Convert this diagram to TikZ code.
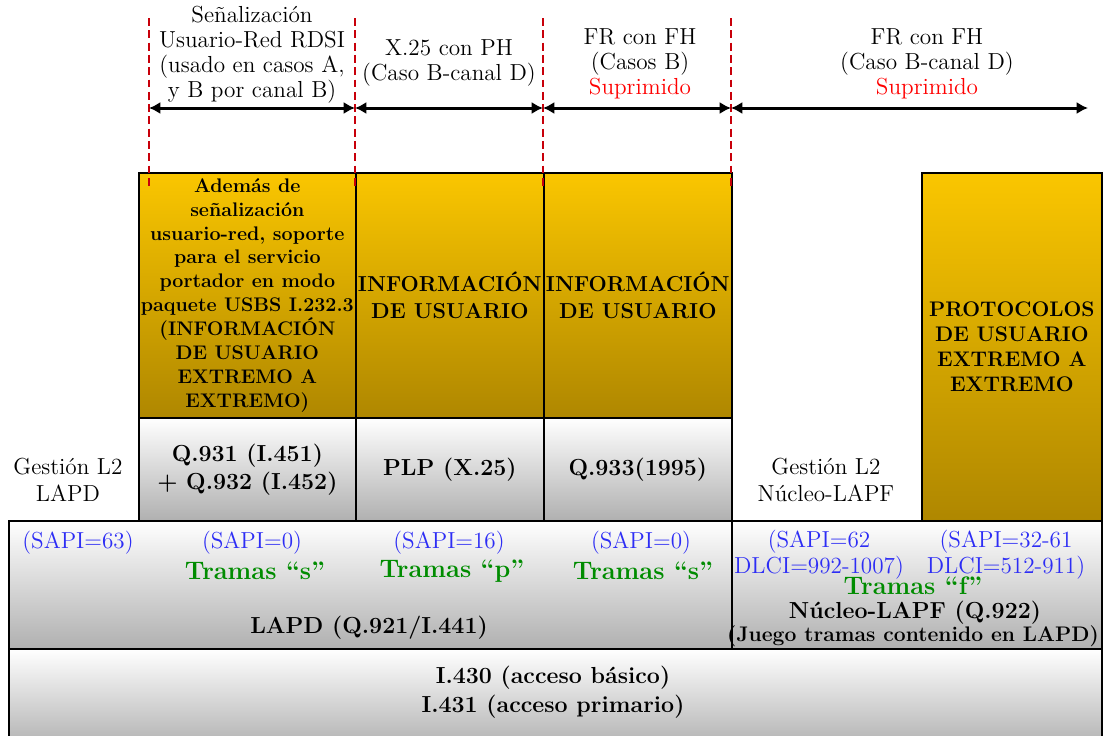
\documentclass[tikz,border=0pt]{standalone}
\usepackage{tikz}
\usetikzlibrary{arrows.meta,positioning}
\usepackage{xcolor}
\definecolor{goldtop}{RGB}{250,198,0}
\definecolor{goldbot}{RGB}{175,135,0}
\definecolor{greybot}{RGB}{176,176,176}
\definecolor{sapiblue}{RGB}{45,45,245}
\definecolor{tramagreen}{RGB}{0,140,0}
\definecolor{sepred}{RGB}{200,0,10}

\begin{document}
\begin{tikzpicture}[
    x=0.02cm, y=-0.02cm,
    userbox/.style={draw=black, line width=1pt, top color=goldtop, bottom color=goldbot, anchor=north west, inner sep=0pt, align=center, font=\fontsize{12.3}{15}\selectfont\bfseries},
    ctrlbox/.style={draw=black, line width=1pt, top color=white, bottom color=greybot, anchor=north west, inner sep=0pt, align=center, font=\fontsize{13.2}{15.8}\selectfont\bfseries},
    sepline/.style={draw=sepred, line width=1.2pt, dash pattern=on 4.5pt off 2.5pt},
    span/.style={line width=1.7pt, {Latex[length=6.5pt,width=7pt]}-{Latex[length=6.5pt,width=7pt]}},
    head/.style={font=\fontsize{13.2}{14.2}\selectfont, align=center},
    mgmt/.style={font=\fontsize{13.2}{15.3}\selectfont, align=center},
    sapi/.style={font=\fontsize{13.2}{14.8}\selectfont, text=sapiblue, align=center},
    trama/.style={font=\fontsize{14.4}{16}\selectfont\bfseries, text=tramagreen},
    layer/.style={font=\fontsize{13.2}{16.4}\selectfont\bfseries, align=center}
]
\useasboundingbox (0,0) rectangle (1103,735);

% upper layer
\node[userbox, minimum width=4.34cm, minimum height=4.9cm, font=\fontsize{11.2}{13.6}\selectfont\bfseries] (info1) at (138,172)
  {Además de\\señalización\\usuario-red, soporte\\para el servicio\\portador en modo\\paquete USBS I.232.3\\(INFORMACIÓN\\DE USUARIO\\EXTREMO A\\EXTREMO)};
\node[userbox, minimum width=3.76cm, minimum height=4.9cm] (info2) at (355,172) {INFORMACIÓN\\DE USUARIO};
\node[userbox, minimum width=3.76cm, minimum height=4.9cm] (info3) at (543,172) {INFORMACIÓN\\DE USUARIO};
\node[userbox, minimum width=3.6cm, minimum height=6.96cm, font=\fontsize{12}{14.2}\selectfont\bfseries] (proto) at (921,172) {PROTOCOLOS\\DE USUARIO\\EXTREMO A\\EXTREMO};

\node[ctrlbox, minimum width=4.34cm, minimum height=2.06cm] (q931) at (138,417) {Q.931 (I.451)\\+ Q.932 (I.452)};
\node[ctrlbox, minimum width=3.76cm, minimum height=2.06cm] (plp) at (355,417) {PLP (X.25)};
\node[ctrlbox, minimum width=3.76cm, minimum height=2.06cm] (q933) at (543,417) {Q.933(1995)};

\node[mgmt] (mgmtlapd) at (68,480) {Gestión L2\\LAPD};
\node[mgmt] (mgmtlapf) at (826,480) {Gestión L2\\Núcleo-LAPF};

% link layer
\node[ctrlbox, minimum width=14.46cm, minimum height=2.56cm] (lapd) at (8,520) {};
\node[ctrlbox, minimum width=7.4cm, minimum height=2.56cm] (lapf) at (731,520) {};
\node[sapi] (sapi63) at (78,543) {(SAPI=63)};
\node[sapi] (sapi0a) at (252,543) {(SAPI=0)};
\node[trama] (tramas1) at (255,571) {Tramas “s”};
\node[sapi] (sapi16) at (449,543) {(SAPI=16)};
\node[trama] (tramap) at (452,571) {Tramas “p”};
\node[sapi] (sapi0b) at (641,543) {(SAPI=0)};
\node[trama] (tramas2) at (643,571) {Tramas “s”};
\node[layer] (lapdname) at (369,628) {LAPD (Q.921/I.441)};
\node[sapi] (sapi62) at (819,555) {(SAPI=62\\DLCI=992-1007)};
\node[sapi] (sapi32) at (1006,555) {(SAPI=32-61\\DLCI=512-911)};
\node[trama, inner sep=0pt] (tramaf) at (913,586) {Tramas “f”};
\node[layer, inner sep=0pt] (lapfname) at (915,613) {Núcleo-LAPF (Q.922)};
\node[font=\large\bfseries, inner sep=0pt] (lapfnote) at (913,636) {(Juego tramas contenido en LAPD)};

% physical layer
\node[ctrlbox, minimum width=21.86cm, minimum height=2cm] (phys) at (8,648) {};
\node[layer] (physname) at (553,692) {I.430 (acceso básico)\\I.431 (acceso primario)};

% service spans
\foreach \i/\x in {1/149,2/355,3/543,4/731} {
  \coordinate (t\i) at (\x,18);
  \coordinate (b\i) at (\x,186);
  \coordinate (a\i) at (\x,108);
  \draw[sepline] (t\i) -- (b\i);
}
\coordinate (a5) at (1088,108);
\draw[span] (a1) -- (a2);
\draw[span] (a2) -- (a3);
\draw[span] (a3) -- (a4);
\draw[span] (a4) -- (a5);

\node[head] (signal) at (252,55) {Señalización\\Usuario-Red RDSI\\(usado en casos A,\\y B por canal B)};
\node[head] (x25) at (449,63) {X.25 con PH\\(Caso B-canal D)};
\node[head] (frb) at (640,64) {FR con FH\\(Casos B)\\\textcolor{red}{Suprimido}};
\node[head] (frd) at (927,64) {FR con FH\\(Caso B-canal D)\\\textcolor{red}{Suprimido}};
\end{tikzpicture}
\end{document}
